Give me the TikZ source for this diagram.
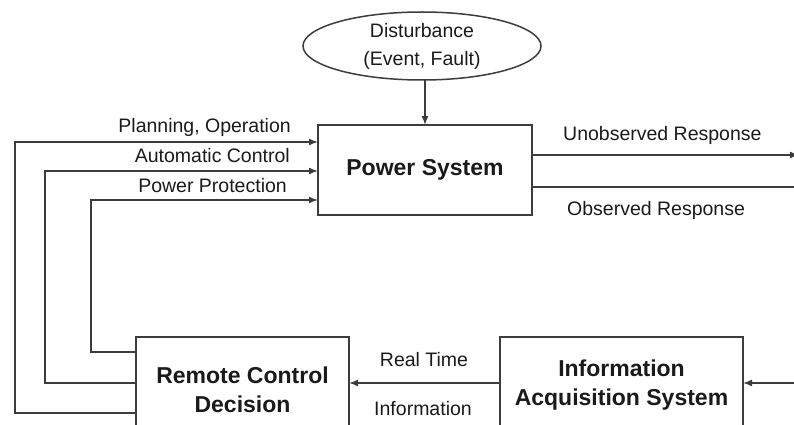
\documentclass[tikz,border=0pt]{standalone}
\usepackage{fontspec}
\setmainfont{Liberation Sans}
\usetikzlibrary{arrows.meta,shapes.geometric}
\definecolor{ln}{HTML}{3C3C3C}
\definecolor{tx}{HTML}{1A1A1A}
\tikzset{
  arr/.style={draw=ln,line width=1.5pt,-{Latex[length=9pt,width=7pt]}},
  ln/.style={draw=ln,line width=1.5pt},
  box/.style={draw=ln,line width=1.5pt,rectangle,inner sep=0pt,outer sep=0pt,align=center,text=tx,font=\fontsize{23}{28.5}\selectfont\bfseries},
  lbl/.style={inner sep=0pt,text=tx,font=\fontsize{19.5}{28}\selectfont},
}
\begin{document}
\begin{tikzpicture}[x=1pt,y=-1pt]
\useasboundingbox (0,0) rectangle (794,425);
\clip (0,0) rectangle (794,425);
% nodes
\node[draw=ln,line width=1.5pt,ellipse,inner sep=0pt,outer sep=0pt,minimum width=238,minimum height=68,align=center,text=tx,font=\fontsize{19.5}{28}\selectfont] (ell) at (422,46) {Disturbance\\(Event, Fault)};
\node[box,minimum width=214,minimum height=90] (ps) at (425,170) {Power System};
\node[box,minimum width=213,minimum height=106] (rc) at (242.5,390) {Remote Control\\Decision};
\node[box,minimum width=243,minimum height=96] (ia) at (621.5,385) {Information\\Acquisition System};
% labels
\node[lbl,anchor=base east] (l1) at (291,132) {Planning, Operation};
\node[lbl,anchor=base east] (l2) at (290,162) {Automatic Control};
\node[lbl,anchor=base east] (l3) at (287,192) {Power Protection};
\node[lbl,anchor=base west] (l4) at (563,140) {Unobserved Response};
\node[lbl,anchor=base west] (l5) at (567,215) {Observed Response};
\node[lbl,anchor=base] (l6) at (424,366) {Real Time};
\node[lbl,anchor=base] (l7) at (423,415) {Information};
% coordinates
\coordinate (p1) at (15,142);
\coordinate (p2) at (45,171);
\coordinate (p3) at (91,200);
\coordinate (q1) at (15,413);
\coordinate (q2) at (45,383);
\coordinate (q3) at (91,352);
\coordinate (o1) at (799,155);
\coordinate (o2) at (794,187);
\coordinate (iin) at (794,383);
% connectors
\draw[arr] (ps.north |- ell.south) -- (ps.north);
\draw[arr] (rc.west |- q1) -- (q1) -- (p1) -- (p1 -| ps.west);
\draw[arr] (rc.west |- q2) -- (q2) -- (p2) -- (p2 -| ps.west);
\draw[arr] (rc.west |- q3) -- (q3) -- (p3) -- (p3 -| ps.west);
\draw[arr] (ps.east |- o1) -- (o1);
\draw[ln] (ps.east |- o2) -- (o2);
\draw[arr] (iin) -- (ia.east |- iin);
\draw[arr] (ia.west |- iin) -- (rc.east |- iin);
\end{tikzpicture}
\end{document}
